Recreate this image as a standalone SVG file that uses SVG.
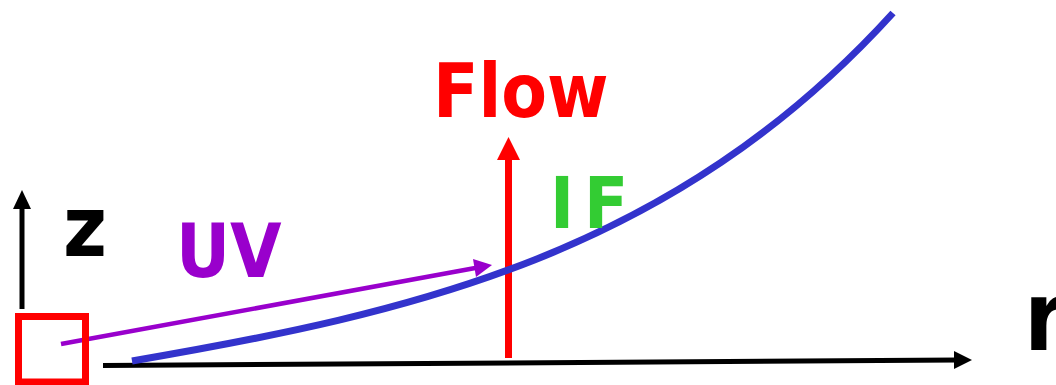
<svg xmlns="http://www.w3.org/2000/svg" width="1056" height="385" viewBox="0 0 1056 385">
<style>
  text { font-family: "DejaVu Sans Condensed", "DejaVu Sans", "Liberation Sans", sans-serif; font-stretch: condensed; font-weight: bold; }
  .ax { stroke: #000; stroke-width: 5; fill: none; }
</style>
<rect width="1056" height="385" fill="#fff"/>
<g id="connectors">
  <g id="z-axis">
    <line class="ax" x1="22" y1="309" x2="22" y2="205"/>
    <polygon points="22,190 13,209 31,209" fill="#000"/>
  </g>
  <g id="r-axis">
    <line class="ax" x1="103" y1="365.5" x2="958" y2="360"/>
    <polygon points="972,360 954,351 954,369" fill="#000"/>
  </g>
  <g id="uv-arrow">
    <line x1="61" y1="344" x2="478" y2="267.5" stroke="#9900CC" stroke-width="4.5"/>
    <polygon points="492,265 473,259 476,277" fill="#9900CC"/>
  </g>
  <g id="flow-arrow">
    <line x1="508.5" y1="358" x2="508.5" y2="155" stroke="#FF0000" stroke-width="7"/>
    <polygon points="508.5,137 497,160 520,160" fill="#FF0000"/>
  </g>
</g>
<g id="curve">
  <path d="M132,361 C412,313 673,255 893,13" stroke="#3333CC" stroke-width="7" fill="none"/>
</g>
<g id="source">
  <rect x="18.5" y="316.5" width="67" height="65.5" fill="none" stroke="#FF0000" stroke-width="7"/>
</g>
<g id="labels">
  <text x="63" y="256" font-size="84" fill="#000">z</text>
  <text x="176" y="277" font-size="74" fill="#9900CC">UV</text>
  <text x="433" y="117" font-size="74" fill="#FF0000">Flow</text>
  <text x="550" y="228" font-size="72" fill="#33CC33" letter-spacing="10">IF</text>
  <text x="1024" y="350" font-size="96" fill="#000">r</text>
</g>
</svg>
